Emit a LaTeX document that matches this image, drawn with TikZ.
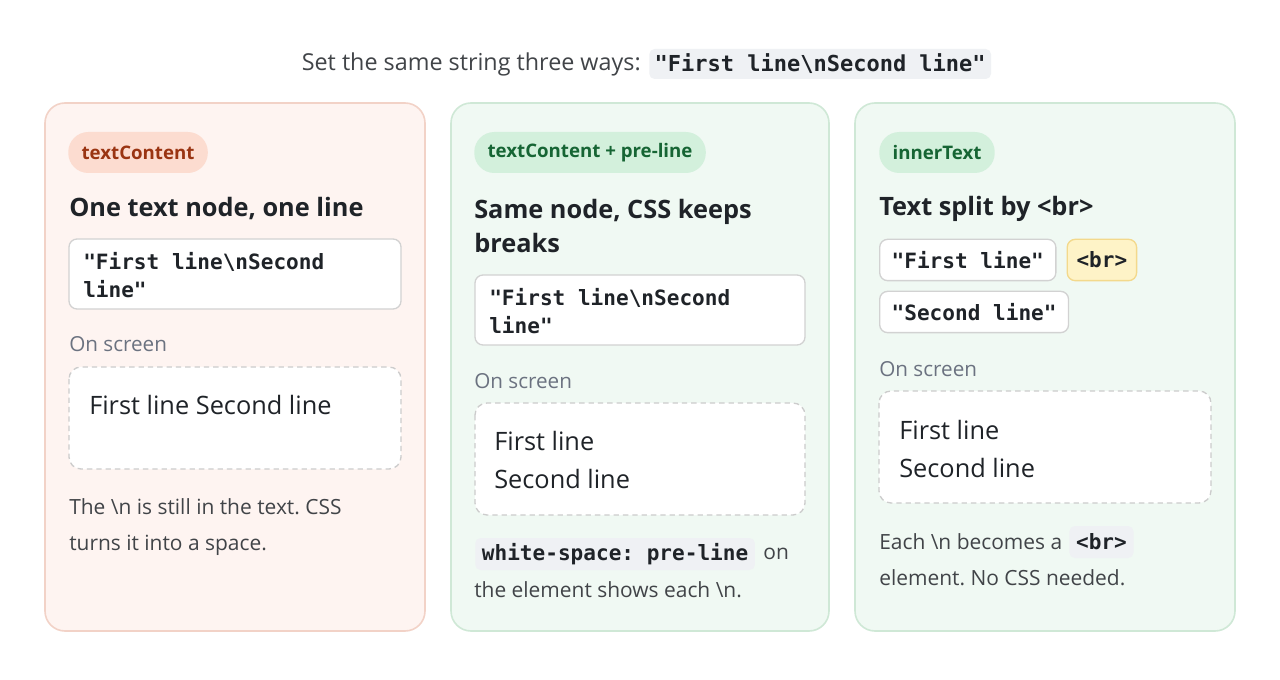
\documentclass[tikz,border=0pt]{standalone}
\usepackage{fontspec}
\setmainfont{Open Sans}
\setmonofont{DejaVu Sans Mono}
\frenchspacing
\definecolor{ink}{HTML}{1F2328}
\definecolor{labgray}{HTML}{6B7280}
\definecolor{codebg}{HTML}{EFF1F4}
\definecolor{rline}{HTML}{F2D2C7}
\definecolor{rfill}{HTML}{FEF4F1}
\definecolor{gline}{HTML}{CFE8D6}
\definecolor{gfill}{HTML}{F0F9F3}
\definecolor{rbadge}{HTML}{FCDCD0}
\definecolor{rtext}{HTML}{9A3412}
\definecolor{gbadge}{HTML}{D3F0DC}
\definecolor{gtext}{HTML}{166534}
\definecolor{yline}{HTML}{F3D98C}
\definecolor{yfill}{HTML}{FEF3C7}
\begin{document}
\begin{tikzpicture}[x=0.75pt,y=-0.75pt,
 card/.style={draw=#1,line width=1.2pt,rounded corners=15pt},
 badge/.style={fill=#1,rounded corners=15pt,minimum height=30.75pt,inner xsep=10pt,anchor=west,font=\fontsize{14}{16}\selectfont\bfseries},
 head/.style={anchor=west,inner sep=0,font=\fontsize{19}{25.5}\selectfont\bfseries,text=ink,align=left},
 code/.style={anchor=west,inner sep=0,font=\fontsize{15.8}{21}\selectfont\ttfamily\bfseries,text=ink,align=left},
 box/.style={draw=gray!35,fill=white,line width=1pt,rounded corners=6pt},
 sbox/.style={draw=gray!40,fill=white,line width=1pt,dashed,dash pattern=on 4pt off 3pt,rounded corners=9pt},
 lab/.style={anchor=west,inner sep=0,font=\fontsize{15.5}{18}\selectfont,text=labgray},
 scr/.style={anchor=west,inner sep=0,font=\fontsize{19}{28.5}\selectfont,text=ink,align=left},
 foot/.style={anchor=west,inner sep=0,font=\fontsize{15.7}{27.5}\selectfont,text=ink!85,align=left},
 pill/.style={fill=#1,rounded corners=4pt,anchor=west,inner xsep=5pt,minimum height=24pt,font=\fontsize{15.8}{16}\selectfont\ttfamily\bfseries,text=ink},
 cpill/.style 2 args={draw=#1,line width=1pt,fill=#2,rounded corners=6pt,anchor=west,inner xsep=9pt,minimum height=31pt,font=\fontsize{15.8}{16}\selectfont\ttfamily\bfseries,text=ink}]
\useasboundingbox (0,0) rectangle (1280,680);
\fill[white] (0,0) rectangle (1280,680);
% title
\node[anchor=east,inner sep=0,font=\fontsize{17.5}{20}\selectfont,text=ink!85] (title) at (641,64) {Set the same string three ways:};
\node[pill=codebg,minimum height=22.5pt,inner xsep=4pt,font=\fontsize{16.5}{16}\selectfont\ttfamily\bfseries] (tcode) at (649,64) {"First line\textbackslash nSecond line"};
% cards
\draw[card=rline,fill=rfill] (45,103) rectangle (425,631);
\draw[card=gline,fill=gfill] (451,103) rectangle (829,631);
\draw[card=gline,fill=gfill] (855,103) rectangle (1235,631);
% card 1
\node[badge=rbadge,text=rtext] (b1) at (68,152.5) {textContent};
\node[head] (h1) at (69,209) {One text node, one line};
\draw[box] (69,239) rectangle (401,309);
\node[code] (c1) at (83,275) {"First line\textbackslash nSecond\\line"};
\node[lab] (l1) at (69,344) {On screen};
\draw[sbox] (69,367) rectangle (401,469);
\node[scr] (s1) at (89,405) {First line Second line};
\node[foot] (f1) at (69,527) {The \textbackslash n is still in the text. CSS\\turns it into a space.};
% card 2
\node[badge=gbadge,text=gtext] (b2) at (474,152.5) {textContent + pre-line};
\node[head] (h2) at (474,226) {Same node, CSS keeps\\breaks};
\draw[box] (475,275) rectangle (805,345);
\node[code] (c2) at (489,311) {"First line\textbackslash nSecond\\line"};
\node[lab] (l2) at (474,381) {On screen};
\draw[sbox] (475,403) rectangle (805,515);
\node[scr] (s2) at (494,460) {First line\\Second line};
\node[pill=codebg] (p2) at (475,554) {white-space: pre-line};
\node[foot,anchor=west] (f2a) at ([xshift=6pt]p2.east) {on};
\node[foot] (f2b) at (474,590) {the element shows each \textbackslash n.};
% card 3
\node[badge=gbadge,text=gtext] (b3) at (879,152.5) {innerText};
\node[head] (h3) at (879,209) {Text split by <br>};
\node[cpill={gray!35}{white}] (n1) at (879,260) {"First line"};
\node[cpill={yline}{yfill},inner xsep=7pt] (n2) at ([xshift=7.5pt]n1.east) {<br>};
\node[cpill={gray!35}{white}] (n3) at (879,312) {"Second line"};
\node[lab] (l3) at (879,369) {On screen};
\draw[sbox] (879,391) rectangle (1211,503);
\node[scr] (s3) at (899,449) {First line\\Second line};
\node[foot] (f3a) at (879,542) {Each \textbackslash n becomes a};
\node[pill=codebg] (p3) at ([xshift=5pt]f3a.east) {<br>};
\node[foot] (f3b) at (879,578) {element. No CSS needed.};
\end{tikzpicture}
\end{document}
